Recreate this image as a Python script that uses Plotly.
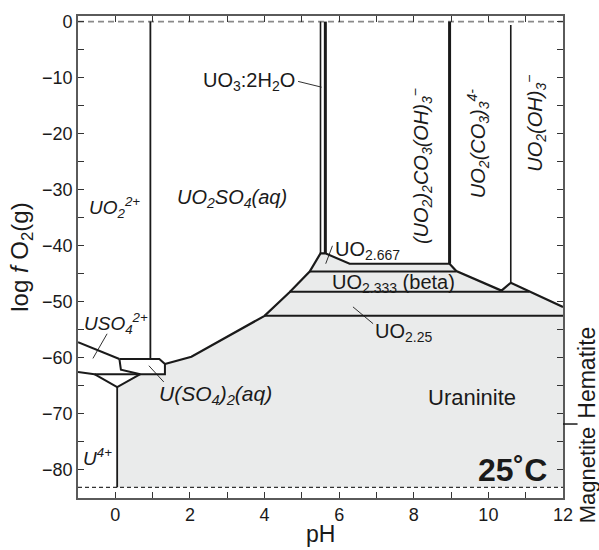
import plotly.graph_objects as go

FONT = "Liberation Sans, Arial, Helvetica, sans-serif"

# ---------------- data (pH, log fO2) ----------------
x_ticks = [0, 2, 4, 6, 8, 10, 12]
y_ticks = [0, -10, -20, -30, -40, -50, -60, -70, -80]
x_minor = [-1, 1, 3, 5, 7, 9, 11]
y_minor = [-5, -15, -25, -35, -45, -55, -65, -75, -85]

water_upper = 0.0
water_lower = -83.1

# upper boundary of uraninite / UO2+x field
top_ph = [1.33, 2.04, 4.0, 4.67, 5.21, 5.50, 5.63, 6.28, 8.96, 9.14, 10.35, 10.6, 12.0]
top_lf = [-61.1, -59.8, -52.5, -48.3, -44.6, -41.35, -41.35, -43.2, -43.2, -44.5, -48.0, -46.6, -50.9]

# U(SO4)2(aq) pentagon
pent_ph = [0.11, 1.18, 1.33, 1.33, 0.67, 0.15, 0.11]
pent_lf = [-60.2, -60.2, -61.1, -62.9, -62.9, -62.1, -60.2]

# USO4(2+) upper boundary
uso4_ph = [-1.0, 0.11]
uso4_lf = [-57.2, -60.2]

# USO4(2+) / U(4+) lower boundary
low_ph = [-1.0, -0.56, 0.67]
low_lf = [-62.5, -62.9, -62.9]

# triangle below
tri_ph = [-0.56, 0.05, 0.67]
tri_lf = [-62.9, -65.2, -62.9]

# U4+ / uraninite vertical
v0_ph = [0.05, 0.05]
v0_lf = [-65.2, -83.1]

# UO2(2+) / UO2SO4 vertical
v1_ph = [0.94, 0.94]
v1_lf = [0.0, -60.2]

# UO3:2H2O double lines
v5a_ph = [5.50, 5.50]
v5a_lf = [0.0, -41.35]
v5b_ph = [5.63, 5.63]
v5b_lf = [0.0, -41.35]

# carbonate boundary
v9_ph = [8.96, 8.96]
v9_lf = [0.0, -43.2]

# UO2(CO3)3 / UO2(OH)3 boundary
v10_ph = [10.6, 10.6]
v10_lf = [-0.6, -46.6]

# internal horizontal lines of the oxide fields
h667_ph = [5.21, 9.14]
h667_lf = [-44.6, -44.6]
h333_ph = [4.67, 11.1]
h333_lf = [-48.2, -48.2]
h225_ph = [4.0, 12.0]
h225_lf = [-52.5, -52.5]

# gray field outline
fill_ph = [0.05, 0.05, 0.67, 1.33] + top_ph + [12.0, 0.05]
fill_lf = [water_lower, -65.2, -62.9, -62.9] + top_lf + [water_lower, water_lower]

# leader lines
leaders = [
    ([4.90, 5.53], [-10.67, -11.7]),
    ([5.82, 5.64], [-40.0, -43.2]),
    ([6.37, 6.91], [-50.9, -53.9]),
    ([0.90, 1.30], [-61.4, -64.3]),
    ([-0.22, -0.60], [-55.7, -60.1]),
]

# labels: text, pH, logfO2, xanchor, angle, italic, size
labels = [
    ("UO<sub>2</sub><sup>2+</sup>", -0.77, -33.2, "left", 0, True, 19),
    ("UO<sub>2</sub>SO<sub>4</sub>(aq)", 1.59, -31.6, "left", 0, True, 20),
    ("UO<sub>3</sub>:2H<sub>2</sub>O", 4.86, -10.7, "right", 0, False, 20),
    ("(UO<sub>2</sub>)<sub>2</sub>CO<sub>3</sub>(OH)<sub>3</sub><sup>\u2212</sup>", 8.19, -25.8, "center", -90, True, 20),
    ("UO<sub>2</sub>(CO<sub>3</sub>)<sub>3</sub><sup>4-</sup>", 9.72, -21.7, "center", -90, True, 20),
    ("UO<sub>2</sub>(OH)<sub>3</sub><sup>\u2212</sup>", 11.24, -18.1, "center", -90, True, 20),
    ("UO<sub>2.667</sub>", 5.83, -40.8, "left", 0, False, 20),
    ("UO<sub>2.333</sub> (beta)", 5.75, -46.7, "left", 0, False, 20),
    ("UO<sub>2.25</sub>", 6.90, -55.4, "left", 0, False, 20),
    ("Uraninite", 9.56, -67.0, "center", 0, False, 22),
    ("U(SO<sub>4</sub>)<sub>2</sub>(aq)", 1.11, -66.6, "left", 0, True, 21),
    ("USO<sub>4</sub><sup>2+</sup>", -0.90, -53.8, "left", 0, True, 19),
    ("U<sup>4+</sup>", -0.93, -77.6, "left", 0, True, 19),
]

fig = go.Figure()

# gray field
fig.add_trace(go.Scatter(x=fill_ph, y=fill_lf, mode="lines", fill="toself",
                         fillcolor="#eaebeb", line=dict(width=0), hoverinfo="skip"))

# dashed water limits
fig.add_trace(go.Scatter(x=[-1, 12], y=[water_upper, water_upper], mode="lines",
                         line=dict(color="#8a8a8a", width=1.6, dash="6px,4px")))
fig.add_trace(go.Scatter(x=[-1, 12], y=[water_lower, water_lower], mode="lines",
                         line=dict(color="#333333", width=1.1, dash="4px,3px")))

def seg(xs, ys, w=2.0, color="#1a1a1a"):
    fig.add_trace(go.Scatter(x=xs, y=ys, mode="lines",
                             line=dict(color=color, width=w), hoverinfo="skip"))

seg(top_ph, top_lf, 2.2)
seg(pent_ph, pent_lf, 2.0)
seg(uso4_ph, uso4_lf, 2.0)
seg(low_ph, low_lf, 2.0)
seg(tri_ph, tri_lf, 2.0)
seg(v0_ph, v0_lf, 1.8)
seg(v1_ph, v1_lf, 1.8)
seg(v5a_ph, v5a_lf, 1.6)
seg(v5b_ph, v5b_lf, 3.0)
seg(v9_ph, v9_lf, 3.0)
seg(v10_ph, v10_lf, 1.6)
seg(h667_ph, h667_lf, 2.0)
seg(h333_ph, h333_lf, 2.0)
seg(h225_ph, h225_lf, 2.0)
for lx, ly in leaders:
    seg(lx, ly, 0.9)

for txt, px, py, xa, ang, ital, sz in labels:
    if ital:
        txt = "<i>" + txt + "</i>"
    fig.add_annotation(x=px, y=py, text=txt, showarrow=False, xanchor=xa, yanchor="middle",
                       textangle=ang, font=dict(family=FONT, size=sz, color="#1a1a1a"))

fig.add_annotation(x=11.62, y=-80.0, text="<b>25\u02daC</b>", showarrow=False,
                   xanchor="right", yanchor="middle",
                   font=dict(family=FONT, size=32, color="#1a1a1a"))

# Hematite / Magnetite on the right
fig.add_annotation(xref="paper", x=1.05, y=-62.6, text="Hematite", showarrow=False,
                   textangle=-90, xanchor="center", yanchor="middle",
                   font=dict(family=FONT, size=23, color="#1a1a1a"))
fig.add_annotation(xref="paper", x=1.05, y=-80.9, text="Magnetite", showarrow=False,
                   textangle=-90, xanchor="center", yanchor="middle",
                   font=dict(family=FONT, size=22, color="#1a1a1a"))
fig.add_shape(type="line", xref="paper", yref="y", x0=1.0, x1=1.03, y0=-71.8, y1=-71.8,
              line=dict(color="#1a1a1a", width=1.5))

# axis titles
fig.add_annotation(xref="paper", yref="paper", x=-0.118, y=0.5,
                   text="log <i>f</i> O<sub>2</sub>(g)", showarrow=False, textangle=-90,
                   xanchor="center", yanchor="middle",
                   font=dict(family=FONT, size=24, color="#1a1a1a"))
fig.add_annotation(xref="paper", yref="paper", x=0.5, y=-0.075,
                   text="pH", showarrow=False, xanchor="center", yanchor="middle",
                   font=dict(family=FONT, size=23, color="#1a1a1a"))

axis_common = dict(showline=True, linecolor="#5a5a5a", linewidth=1.6, mirror="allticks",
                   ticks="inside", ticklen=6, tickwidth=1.2, tickcolor="#333333",
                   showgrid=False, zeroline=False,
                   tickfont=dict(family=FONT, size=18, color="#1a1a1a"))

fig.update_xaxes(range=[-1, 12], tickvals=x_ticks,
                 minor=dict(tickvals=x_minor, ticks="inside", ticklen=6, tickcolor="#333333"),
                 **axis_common)
fig.update_yaxes(range=[-85, 1], tickvals=y_ticks,
                 minor=dict(tickvals=y_minor, ticks="inside", ticklen=6, tickcolor="#333333"),
                 **axis_common)

fig.update_layout(width=599, height=550, showlegend=False,
                  margin=dict(l=78, r=36, t=14, b=52),
                  plot_bgcolor="white", paper_bgcolor="white",
                  font=dict(family=FONT))

fig.write_html("out.html", config={"displayModeBar": False},
               post_script="document.body.style.margin='0';document.body.style.overflow='hidden';")
